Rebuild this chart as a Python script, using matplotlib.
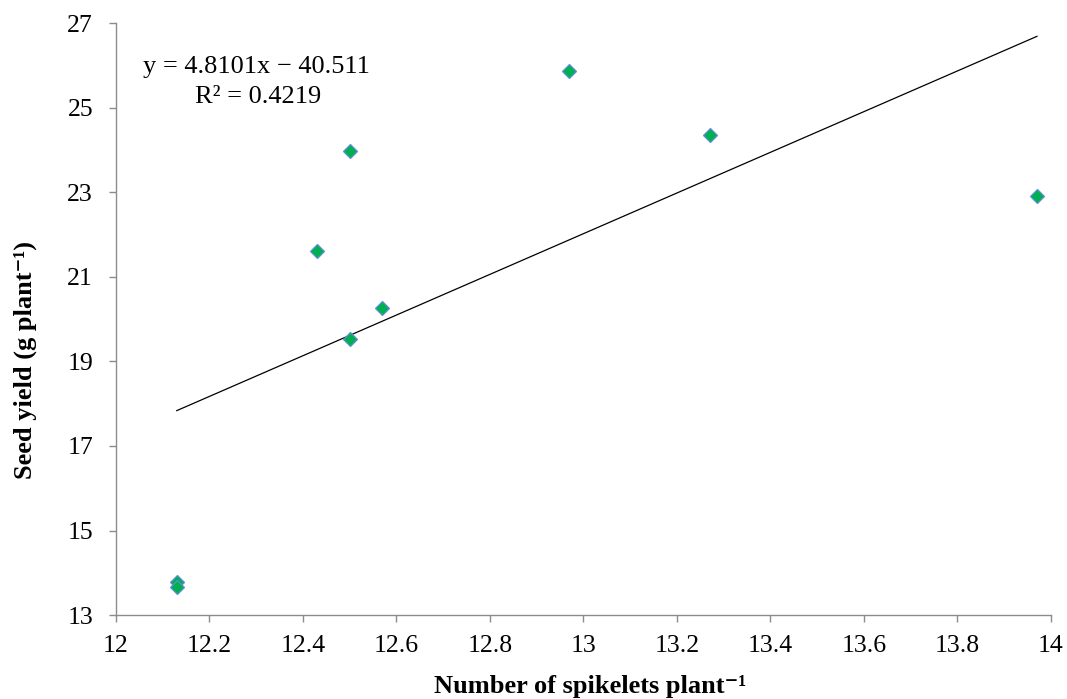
import matplotlib
matplotlib.use("Agg")
import matplotlib.pyplot as plt
import numpy as np

# spikelets per plant vs seed yield
spikelets = [12.13, 12.13, 12.43, 12.5, 12.5, 12.57, 12.97, 13.27, 13.97]
seed_yield = [13.78, 13.66, 21.62, 23.98, 19.52, 20.27, 25.87, 24.35, 22.9]

slope = 4.8101
intercept = -40.511
r2 = 0.4219

x_ticks = [12, 12.2, 12.4, 12.6, 12.8, 13, 13.2, 13.4, 13.6, 13.8, 14]
x_tick_labels = ['12', '12.2', '12.4', '12.6', '12.8', '13', '13.2', '13.4', '13.6', '13.8', '14']
y_ticks = [13, 15, 17, 19, 21, 23, 25, 27]

plt.rcParams['font.family'] = ['Liberation Serif', 'DejaVu Serif']

fig = plt.figure(figsize=(10.67, 6.99), dpi=100)
ax = fig.add_axes([0.1087, 0.12, 0.8763, 0.847])

xs = np.array([min(spikelets), max(spikelets)])
ax.plot(xs, slope * xs + intercept, color='black', lw=0.9)
ax.plot(spikelets, seed_yield, linestyle='none', marker='D', markersize=7.5,
        markerfacecolor='#00B050', markeredgecolor='#5B8FD6', markeredgewidth=0.9)

ax.set_xlim(12, 14)
ax.set_ylim(13, 27)
ax.set_xticks(x_ticks)
ax.set_xticklabels(x_tick_labels)
ax.set_yticks(y_ticks)

for s in ['top', 'right']:
    ax.spines[s].set_visible(False)
for s in ['left', 'bottom']:
    ax.spines[s].set_color('#8c8c8c')
    ax.spines[s].set_linewidth(1.0)
ax.tick_params(direction='out', length=5, width=1.0, color='#8c8c8c',
               labelsize=18.5, labelcolor='black')
ax.tick_params(axis='y', pad=11.5)
ax.tick_params(axis='x', pad=9)

ax.set_xlabel('Number of spikelets plant\u207b\u00b9', fontsize=19, fontweight='bold')
ax.set_ylabel('Seed yield (g plant\u207b\u00b9)', fontsize=19, fontweight='bold')
ax.xaxis.label.set_va('center')
ax.yaxis.label.set_va('center')
ax.xaxis.set_label_coords(0.507, -0.12)
ax.yaxis.set_label_coords(-0.0973, 0.431)

ax.text(12.30, 25.82, 'y = {:.4f}x \u2212 {:.3f}'.format(slope, -intercept),
        fontsize=19, ha='center', va='baseline')
ax.text(12.305, 25.11, 'R\u00b2 = {:.4f}'.format(r2),
        fontsize=19, ha='center', va='baseline')

fig.savefig('out.png', dpi=100)
